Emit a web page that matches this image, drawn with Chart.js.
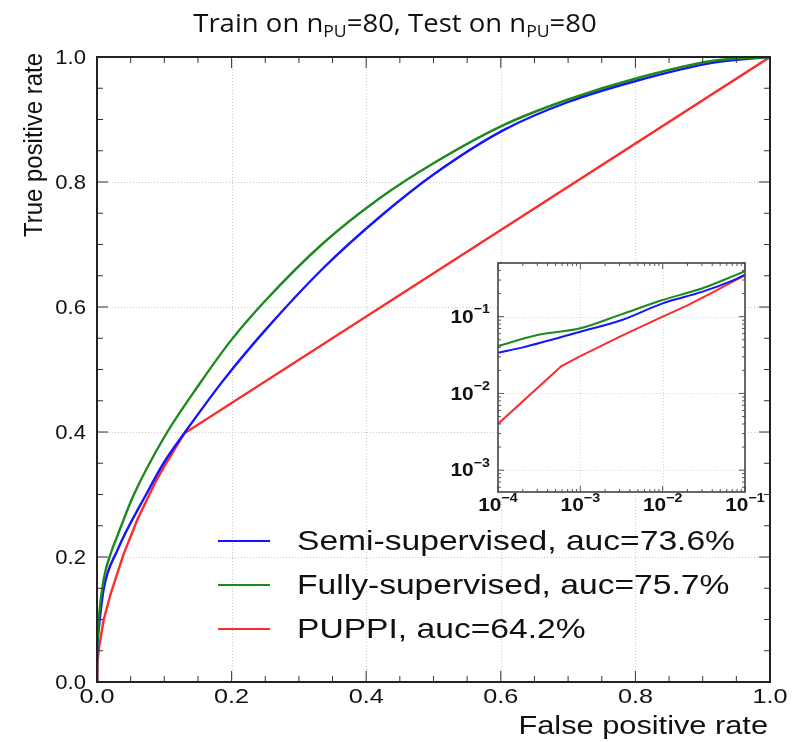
<!DOCTYPE html>
<html>
<head>
<meta charset="utf-8">
<script src="https://cdn.jsdelivr.net/npm/chart.js@4.4.1/dist/chart.umd.min.js"></script>
<style>
  html, body { margin: 0; padding: 0; background: #fff; }
  #wrap { position: relative; width: 792px; height: 742px; }
  #main { position: absolute; left: 0; top: 0; }
  #inset { position: absolute; left: 440px; top: 250px; }
</style>
</head>
<body>
<div id="wrap">
  <canvas id="main" width="792" height="742"></canvas>
  <canvas id="inset" width="330" height="280"></canvas>
</div>
<script>
// ROC curves
const fprSemi = [0, 1e-4, 2e-4, 1e-3, 3.2e-3, 0.01, 0.03, 0.074, 0.1, 0.131, 0.188, 0.25, 0.336, 0.42, 0.5, 0.604, 0.7, 0.802, 0.916, 1];
const tprSemi = [0, 0.0339, 0.0398, 0.0637, 0.0905, 0.149, 0.21, 0.302, 0.352, 0.40, 0.483, 0.563, 0.662, 0.744, 0.812, 0.883, 0.928, 0.962, 0.991, 1];

const fprFully = [0, 1e-4, 3e-4, 1e-3, 3.2e-3, 0.01, 0.0218, 0.03, 0.054, 0.1, 0.153, 0.198, 0.25, 0.336, 0.42, 0.5, 0.604, 0.7, 0.802, 0.916, 1];
const tprFully = [0, 0.0414, 0.0577, 0.0705, 0.108, 0.165, 0.21, 0.233, 0.298, 0.392, 0.478, 0.545, 0.61, 0.702, 0.774, 0.83, 0.891, 0.932, 0.966, 0.994, 1];

const fprPuppi = [0, 1e-4, 5.9e-4, 1e-3, 3.2e-3, 0.01, 0.02, 0.039, 0.06, 0.086, 0.1, 0.13, 1];
const tprPuppi = [0, 0.004, 0.0227, 0.0307, 0.0565, 0.1, 0.14, 0.203, 0.26, 0.318, 0.345, 0.398, 1];

const seriesLabels = ["Semi-supervised, auc=73.6%", "Fully-supervised, auc=75.7%", "PUPPI, auc=64.2%"];
const seriesColors = ["#1414ff", "#1d8a1d", "#ff2a2a"];
const seriesSmooth = [true, true, false];

const mainTicks = [0, 0.2, 0.4, 0.6, 0.8, 1.0];
const mainTickLabels = ["0.0", "0.2", "0.4", "0.6", "0.8", "1.0"];

const insetTicksX = [1e-4, 1e-3, 1e-2, 1e-1];
const insetExpX = ["\u22124", "\u22123", "\u22122", "\u22121"];
const insetTicksY = [1e-3, 1e-2, 1e-1];
const insetExpY = ["\u22123", "\u22122", "\u22121"];

const SANS = `"Liberation Sans", Arial, sans-serif`;

const pts = (xs, ys) => xs.map((x, i) => ({ x, y: ys[i] }));
const positive = (arr) => arr.filter((p) => p.x > 0 && p.y > 0);

const series = [
  pts(fprSemi, tprSemi),
  pts(fprFully, tprFully),
  pts(fprPuppi, tprPuppi),
];

// text drawn a bit wider, like the stretched original
function wideText(ctx, str, x, y, font, align, sx, baseline) {
  ctx.save();
  ctx.font = font;
  ctx.translate(x, y);
  ctx.scale(sx, 1);
  ctx.textAlign = align;
  ctx.textBaseline = baseline || "alphabetic";
  ctx.fillStyle = "#111";
  ctx.fillText(str, 0, 0);
  ctx.restore();
}

function seg(ctx, x1, y1, x2, y2) {
  ctx.beginPath();
  ctx.moveTo(x1, y1);
  ctx.lineTo(x2, y2);
  ctx.stroke();
}

const mainDecor = {
  id: "mainDecor",
  beforeDatasetsDraw(chart) {
    const { ctx, chartArea: a, scales } = chart;
    ctx.save();
    ctx.strokeStyle = "#c9c9c9";
    ctx.lineWidth = 1;
    ctx.setLineDash([1, 2]);
    mainTicks.slice(1, -1).forEach((v) => {
      const px = Math.round(scales.x.getPixelForValue(v)) + 0.5;
      const py = Math.round(scales.y.getPixelForValue(v)) + 0.5;
      seg(ctx, px, a.top, px, a.bottom);
      seg(ctx, a.left, py, a.right, py);
    });
    ctx.restore();
  },
  afterDraw(chart) {
    const { ctx, chartArea: a, scales } = chart;
    const { x, y } = scales;
    ctx.save();

    // ticks pointing inwards on all sides
    ctx.strokeStyle = "#333";
    ctx.lineWidth = 1;
    for (let i = 0; i <= 20; i++) {
      const v = i * 0.05;
      const len = i % 4 === 0 ? 11 : 6;
      const px = x.getPixelForValue(v);
      const py = y.getPixelForValue(v);
      seg(ctx, px, a.bottom, px, a.bottom - len);
      seg(ctx, px, a.top, px, a.top + len);
      seg(ctx, a.left, py, a.left + len, py);
      seg(ctx, a.right, py, a.right - len, py);
    }

    // frame
    ctx.strokeStyle = "#222";
    ctx.lineWidth = 2;
    ctx.strokeRect(a.left, a.top, a.right - a.left, a.bottom - a.top);

    // tick labels
    mainTicks.forEach((v, i) => {
      wideText(ctx, mainTickLabels[i], a.left - 11, y.getPixelForValue(v) + 1, `21px ${SANS}`, "right", 1.05, "middle");
      wideText(ctx, mainTickLabels[i], x.getPixelForValue(v), a.bottom + 5, `21px ${SANS}`, "center", 1.2, "top");
    });

    // axis titles
    wideText(ctx, "False positive rate", a.right - 2, 734, `25px ${SANS}`, "right", 1.23);
    ctx.save();
    ctx.translate(35, 53);
    ctx.rotate(-Math.PI / 2);
    wideText(ctx, "True positive rate", 0, 0, `26px ${SANS}`, "right", 0.92, "middle");
    ctx.restore();

    // legend
    const rows = [541, 585, 629];
    seriesLabels.forEach((lab, i) => {
      ctx.strokeStyle = seriesColors[i];
      ctx.lineWidth = 2;
      seg(ctx, 218, rows[i], 270, rows[i]);
      wideText(ctx, lab, 297, rows[i] + 1, `28px ${SANS}`, "left", 1.2, "middle");
    });

    // title with subscripts
    const big = `25px "Open Sans", sans-serif`;
    const small = `16px "Open Sans", sans-serif`;
    const parts = [
      ["Train on n", big, 0], ["PU", small, 5], ["=80, Test on n", big, 0], ["PU", small, 5], ["=80", big, 0],
    ];
    const sx = 1.1;
    let total = 0;
    parts.forEach((p) => { ctx.font = p[1]; total += ctx.measureText(p[0]).width * sx; });
    let cx = 395 - total / 2;
    parts.forEach((p) => {
      wideText(ctx, p[0], cx, 32 + p[2], p[1], "left", sx);
      ctx.font = p[1];
      cx += ctx.measureText(p[0]).width * sx;
    });

    ctx.restore();
  },
};

const lineSet = (data, i, width) => ({
  label: seriesLabels[i],
  data,
  showLine: true,
  borderColor: seriesColors[i],
  borderWidth: width,
  pointRadius: 0,
  cubicInterpolationMode: seriesSmooth[i] ? "monotone" : "default",
  tension: 0,
  fill: false,
});

new Chart(document.getElementById("main"), {
  type: "scatter",
  data: {
    datasets: [lineSet(series[1], 1, 2.4), lineSet(series[0], 0, 2.4), lineSet(series[2], 2, 2.4)],
  },
  options: {
    responsive: false,
    animation: false,
    layout: { padding: { top: 57, right: 22, left: 0, bottom: 0 } },
    scales: {
      x: {
        type: "linear", min: 0, max: 1,
        ticks: { display: false }, grid: { display: false }, border: { display: false },
        afterFit: (s) => { s.height = 60; },
      },
      y: {
        type: "linear", min: 0, max: 1,
        ticks: { display: false }, grid: { display: false }, border: { display: false },
        afterFit: (s) => { s.width = 97; },
      },
    },
    plugins: { legend: { display: false }, tooltip: { enabled: false } },
  },
  plugins: [mainDecor],
});

function expLabel(ctx, exp, x, y, align) {
  const base = `bold 19px ${SANS}`;
  const sup = `bold 13px ${SANS}`;
  const sx = 1.1;
  ctx.font = base;
  const w1 = ctx.measureText("10").width * sx;
  ctx.font = sup;
  const w2 = ctx.measureText(exp).width * sx;
  let left = x;
  if (align === "right") left = x - w1 - w2;
  if (align === "center") left = x - (w1 + w2) / 2;
  wideText(ctx, "10", left, y, base, "left", sx, "middle");
  wideText(ctx, exp, left + w1, y - 8, sup, "left", sx, "middle");
}

const insetDecor = {
  id: "insetDecor",
  beforeDatasetsDraw(chart) {
    const { ctx, chartArea: a, scales } = chart;
    ctx.save();
    ctx.fillStyle = "#fff";
    ctx.fillRect(a.left, a.top, a.right - a.left, a.bottom - a.top);
    ctx.strokeStyle = "#d4d4d4";
    ctx.lineWidth = 1;
    ctx.setLineDash([1, 2]);
    insetTicksX.slice(1, -1).forEach((v) => {
      const px = Math.round(scales.x.getPixelForValue(v)) + 0.5;
      seg(ctx, px, a.top, px, a.bottom);
    });
    insetTicksY.forEach((v) => {
      const py = Math.round(scales.y.getPixelForValue(v)) + 0.5;
      seg(ctx, a.left, py, a.right, py);
    });
    ctx.restore();
  },
  afterDraw(chart) {
    const { ctx, chartArea: a, scales } = chart;
    const { x, y } = scales;
    ctx.save();
    ctx.strokeStyle = "#555";
    ctx.lineWidth = 1;
    // log minor and major ticks
    for (let d = -4; d <= -1; d++) {
      for (let m = 1; m <= 9; m++) {
        const v = m * Math.pow(10, d);
        const len = m === 1 ? 6 : 3;
        if (v >= 1e-4 && v <= 0.1) {
          const px = x.getPixelForValue(v);
          seg(ctx, px, a.bottom, px, a.bottom - len);
          seg(ctx, px, a.top, px, a.top + len);
        }
        if (v >= y.min && v <= y.max) {
          const py = y.getPixelForValue(v);
          seg(ctx, a.left, py, a.left + len, py);
          seg(ctx, a.right, py, a.right - len, py);
        }
      }
    }
    ctx.strokeStyle = "#444";
    ctx.lineWidth = 1.6;
    ctx.strokeRect(a.left, a.top, a.right - a.left, a.bottom - a.top);

    insetTicksY.forEach((v, i) => expLabel(ctx, insetExpY[i], a.left - 8, y.getPixelForValue(v) + 1, "right"));
    insetTicksX.forEach((v, i) => expLabel(ctx, insetExpX[i], x.getPixelForValue(v), a.bottom + 14, "center"));
    ctx.restore();
  },
};

new Chart(document.getElementById("inset"), {
  type: "scatter",
  data: {
    datasets: [
      lineSet(positive(series[1]), 1, 2),
      lineSet(positive(series[0]), 0, 2),
      lineSet(positive(series[2]), 2, 2),
    ],
  },
  options: {
    responsive: false,
    animation: false,
    layout: { padding: { top: 13, right: 25, left: 0, bottom: 0 } },
    scales: {
      x: {
        type: "logarithmic", min: 1e-4, max: 0.1,
        ticks: { display: false }, grid: { display: false }, border: { display: false },
        afterFit: (s) => { s.height = 38; },
      },
      y: {
        type: "logarithmic", min: 5.2e-4, max: 0.5,
        ticks: { display: false }, grid: { display: false }, border: { display: false },
        afterFit: (s) => { s.width = 58; },
      },
    },
    plugins: { legend: { display: false }, tooltip: { enabled: false } },
  },
  plugins: [insetDecor],
});
</script>
</body>
</html>
